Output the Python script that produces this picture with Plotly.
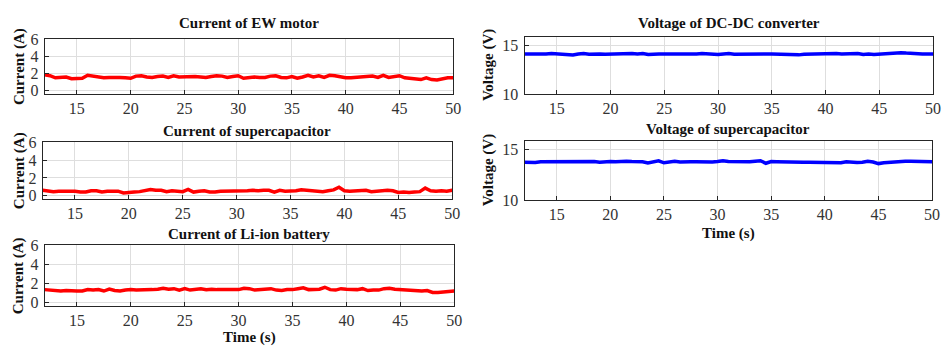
import plotly.graph_objects as go

time_s = [12.0, 12.5, 13.0, 13.5, 14.0, 14.5, 15.0, 15.5, 16.0, 16.5, 17.0, 17.5, 18.0, 18.5, 19.0, 19.5,
          20.0, 20.5, 21.0, 21.5, 22.0, 22.5, 23.0, 23.5, 24.0, 24.5, 25.0, 25.5, 26.0, 26.5, 27.0, 27.5,
          28.0, 28.5, 29.0, 29.5, 30.0, 30.5, 31.0, 31.5, 32.0, 32.5, 33.0, 33.5, 34.0, 34.5, 35.0, 35.5,
          36.0, 36.5, 37.0, 37.5, 38.0, 38.5, 39.0, 39.5, 40.0, 40.5, 41.0, 41.5, 42.0, 42.5, 43.0, 43.5,
          44.0, 44.5, 45.0, 45.5, 46.0, 46.5, 47.0, 47.5, 48.0, 48.5, 49.0, 49.5, 50.0]

current_ew_motor = [1.85, 1.75, 1.5, 1.55, 1.6, 1.4, 1.4, 1.45, 1.8, 1.7, 1.5, 1.5, 1.55, 1.6, 1.55, 1.5,
                    1.45, 1.7, 1.75, 1.6, 1.55, 1.65, 1.7, 1.55, 1.75, 1.6, 1.65, 1.6, 1.65, 1.6, 1.55, 1.65,
                    1.75, 1.7, 1.55, 1.65, 1.75, 1.45, 1.55, 1.6, 1.55, 1.55, 1.7, 1.75, 1.55, 1.5, 1.65, 1.45,
                    1.6, 1.8, 1.6, 1.75, 1.55, 1.8, 1.75, 1.6, 1.5, 1.5, 1.55, 1.55, 1.6, 1.7, 1.55, 1.8,
                    1.55, 1.6, 1.75, 1.5, 1.4, 1.4, 1.3, 1.5, 1.3, 1.25, 1.4, 1.5, 1.5]

current_supercap = [0.6, 0.55, 0.45, 0.5, 0.5, 0.45, 0.5, 0.4, 0.4, 0.55, 0.55, 0.4, 0.5, 0.5, 0.5, 0.3,
                    0.4, 0.4, 0.45, 0.55, 0.7, 0.6, 0.6, 0.45, 0.55, 0.5, 0.45, 0.7, 0.4, 0.5, 0.55, 0.4,
                    0.4, 0.5, 0.5, 0.55, 0.5, 0.55, 0.55, 0.6, 0.55, 0.6, 0.6, 0.4, 0.6, 0.5, 0.5, 0.55,
                    0.65, 0.6, 0.6, 0.45, 0.45, 0.55, 0.65, 0.95, 0.55, 0.5, 0.55, 0.6, 0.6, 0.45, 0.5, 0.55,
                    0.6, 0.55, 0.35, 0.4, 0.35, 0.4, 0.45, 0.85, 0.55, 0.5, 0.55, 0.5, 0.6]

current_li_ion = [1.35, 1.3, 1.25, 1.2, 1.25, 1.2, 1.2, 1.2, 1.35, 1.3, 1.35, 1.2, 1.4, 1.25, 1.2, 1.3,
                  1.35, 1.3, 1.3, 1.3, 1.35, 1.4, 1.5, 1.4, 1.45, 1.3, 1.45, 1.3, 1.35, 1.45, 1.35, 1.4,
                  1.35, 1.35, 1.35, 1.4, 1.35, 1.5, 1.45, 1.3, 1.35, 1.45, 1.45, 1.3, 1.25, 1.35, 1.35, 1.45,
                  1.55, 1.35, 1.4, 1.4, 1.6, 1.35, 1.3, 1.45, 1.4, 1.35, 1.35, 1.45, 1.25, 1.3, 1.3, 1.45,
                  1.5, 1.4, 1.35, 1.35, 1.25, 1.2, 1.2, 1.25, 1.05, 1.05, 1.1, 1.15, 1.2]

voltage_dcdc = [14.1, 14.08, 14.1, 14.12, 14.1, 14.15, 14.12, 14.1, 14.05, 14.0, 14.1, 14.15, 14.08, 14.12, 14.1, 14.08,
                14.1, 14.1, 14.12, 14.08, 14.15, 14.1, 14.15, 14.05, 14.12, 14.1, 14.12, 14.15, 14.1, 14.12, 14.1, 14.08,
                14.12, 14.15, 14.1, 14.02, 14.05, 14.12, 14.15, 14.08, 14.1, 14.12, 14.1, 14.12, 14.1, 14.12, 14.1, 14.08,
                14.1, 14.1, 14.05, 14.02, 14.08, 14.1, 14.1, 14.12, 14.12, 14.1, 14.15, 14.1, 14.12, 14.08, 14.15, 14.05,
                14.12, 14.05, 14.1, 14.12, 14.15, 14.2, 14.25, 14.2, 14.15, 14.12, 14.1, 14.12, 14.12]

voltage_supercap = [13.75, 13.7, 13.72, 13.8, 13.8, 13.82, 13.8, 13.78, 13.8, 13.82, 13.85, 13.85, 13.8, 13.82, 13.75, 13.8,
                    13.82, 13.8, 13.85, 13.85, 13.82, 13.85, 13.8, 13.68, 13.8, 13.9, 13.7, 13.82, 13.85, 13.78, 13.82, 13.8,
                    13.8, 13.78, 13.75, 13.78, 13.82, 13.9, 13.82, 13.8, 13.78, 13.75, 13.8, 13.85, 13.9, 13.65, 13.82, 13.8,
                    13.78, 13.75, 13.72, 13.72, 13.75, 13.75, 13.75, 13.75, 13.72, 13.72, 13.75, 13.7, 13.8, 13.72, 13.72, 13.75,
                    13.85, 13.78, 13.62, 13.7, 13.75, 13.8, 13.82, 13.85, 13.85, 13.82, 13.8, 13.82, 13.8]

x_ticks = [15, 20, 25, 30, 35, 40, 45, 50]
current_ticks = [0, 2, 4, 6]
voltage_ticks = [10, 15]

W, H = 951, 356
SERIF = "Liberation Serif"
RED = "#ff0000"
BLUE = "#0000ff"

# panel: (series, color, title, yrange, yticks, ytitle, box px (left, right, top, bottom), title y, xlabel y)
panels = [
    (current_ew_motor, RED, "Current of EW motor", [-0.38, 6.1], current_ticks, "Current (A)", (45, 457, 33, 91), 17, None),
    (current_supercap, RED, "Current of supercapacitor", [-0.38, 6.1], current_ticks, "Current (A)", (43, 456, 141, 201), 130, None),
    (current_li_ion, RED, "Current of Li-ion battery", [-0.38, 6.1], current_ticks, "Current (A)", (45, 458, 249, 313), 238, 346),
    (voltage_dcdc, BLUE, "Voltage of DC-DC converter", [10, 15.9], voltage_ticks, "Voltage (V)", (529, 941, 31, 91), 17, None),
    (voltage_supercap, BLUE, "Voltage of supercapacitor", [10, 15.9], voltage_ticks, "Voltage (V)", (529, 940, 140, 202), 128, 237),
]

fig = go.Figure()
annotations = []
for i, (ys, col, title, yr, yt, ytitle, box, ty, xly) in enumerate(panels):
    n = "" if i == 0 else str(i + 1)
    l, r, t, b = box
    fig.add_trace(go.Scatter(x=time_s, y=ys, mode="lines", xaxis="x" + n, yaxis="y" + n,
                             line=dict(color=col, width=3.5), showlegend=False, hoverinfo="skip"))
    common = dict(showline=True, linecolor="#262626", linewidth=1, mirror=True,
                  showgrid=True, gridcolor="#dedede", gridwidth=1, zeroline=False,
                  ticks="inside", ticklen=4, tickcolor="#262626",
                  tickfont=dict(family=SERIF, size=16, color="#333333"))
    fig.layout["xaxis" + n] = dict(domain=[l / W, r / W], anchor="y" + n, range=[12, 50],
                                   tickvals=x_ticks, **common)
    fig.layout["yaxis" + n] = dict(domain=[(H - b) / H, (H - t) / H], anchor="x" + n, range=yr,
                                   tickvals=yt, ticklabelstandoff=2, **common)
    annotations.append(dict(text="<b>%s</b>" % title, x=(l + r) / 2 / W, y=(H - ty) / H,
                            xref="paper", yref="paper", xanchor="center", yanchor="middle",
                            showarrow=False, font=dict(family=SERIF, size=15, color="#111111")))
    yx = 19 if l < 200 else 492
    annotations.append(dict(text="<b>%s</b>" % ytitle, x=yx / W, y=(H - (t + b) / 2) / H,
                            xref="paper", yref="paper", xanchor="center", yanchor="middle",
                            textangle=-90, showarrow=False,
                            font=dict(family=SERIF, size=15, color="#111111")))
    if xly is not None:
        annotations.append(dict(text="<b>Time (s)</b>", x=(l + r) / 2 / W, y=(H - xly) / H,
                                xref="paper", yref="paper", xanchor="center", yanchor="middle",
                                showarrow=False, font=dict(family=SERIF, size=15, color="#111111")))

fig.update_layout(width=W, height=H, margin=dict(l=0, r=0, t=0, b=0),
                  font=dict(family=SERIF), paper_bgcolor="white", plot_bgcolor="white",
                  annotations=annotations)
fig.update_xaxes(tickfont_family=SERIF)
fig.update_yaxes(tickfont_family=SERIF)
fig.write_html("out.html")
